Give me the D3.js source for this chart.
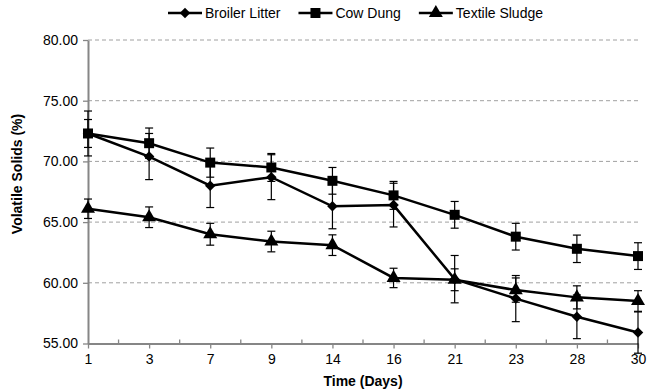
<!DOCTYPE html>
<html>
<head>
<meta charset="utf-8">
<script src="https://cdn.jsdelivr.net/npm/d3@7"></script>
<style>
  body { margin: 0; background: #fff; }
  svg { display: block; font-family: "Liberation Sans", Arial, sans-serif; }
</style>
</head>
<body>
<svg id="chart" width="651" height="389"></svg>
<script>
// categories (days)
const days = ["1", "3", "7", "9", "14", "16", "21", "23", "28", "30"];
// series values (%)
const broilerLitter = [72.3, 70.4, 68.0, 68.7, 66.3, 66.4, 60.3, 58.7, 57.2, 55.9];
const cowDung       = [72.3, 71.5, 69.9, 69.5, 68.4, 67.2, 65.6, 63.8, 62.8, 62.2];
const textileSludge = [66.1, 65.4, 64.0, 63.4, 63.1, 60.4, 60.25, 59.4, 58.8, 58.5];
// error bars (+/-)
const broilerErr = [1.85, 1.9, 1.8, 1.85, 1.85, 1.8, 1.95, 1.9, 1.8, 1.7];
const cowErr     = [1.15, 1.25, 1.2, 1.15, 1.1, 1.15, 1.1, 1.1, 1.13, 1.1];
const textileErr = [0.8, 0.85, 0.9, 0.85, 0.85, 0.8, 0.9, 1.0, 0.95, 0.85];
const yTicks = [55, 60, 65, 70, 75, 80];

const series = [
  {name: "Broiler Litter", values: broilerLitter, err: broilerErr, marker: "diamond"},
  {name: "Cow Dung", values: cowDung, err: cowErr, marker: "square"},
  {name: "Textile Sludge", values: textileSludge, err: textileErr, marker: "triangle"}
];

const margin = {top: 40, right: 13, bottom: 45.5, left: 88};
const svg = d3.select("#chart");
const width = +svg.attr("width") - margin.left - margin.right;
const height = +svg.attr("height") - margin.top - margin.bottom;
const fontSize = 14;

const x = d3.scalePoint().domain(days).range([0, width]);
const y = d3.scaleLinear().domain([55, 80]).range([height, 0]);

const g = svg.append("g")
    .attr("transform", "translate(" + margin.left + "," + margin.top + ")");

// grid lines
g.selectAll(".grid")
    .data(yTicks.filter(d => d > 55))
    .enter().append("line")
    .attr("class", "grid")
    .attr("x1", 0).attr("x2", width)
    .attr("y1", d => y(d)).attr("y2", d => y(d))
    .attr("stroke", "#a0a0a0")
    .attr("stroke-width", 1)
    .attr("stroke-dasharray", "4,3");

const axisColor = "#868686";

// y axis
const yAxis = g.append("g")
    .call(d3.axisLeft(y).tickValues(yTicks).tickFormat(d3.format(".2f")).tickSize(5).tickSizeOuter(0));
yAxis.select(".domain").attr("stroke", axisColor).attr("stroke-width", 2);
yAxis.selectAll(".tick line").attr("stroke", axisColor).attr("stroke-width", 1.3);
yAxis.selectAll(".tick text").attr("font-size", fontSize).attr("fill", "#000").attr("x", -10)
    .attr("font-family", "Liberation Sans, Arial, sans-serif");

// x axis
const xAxis = g.append("g")
    .attr("transform", "translate(0," + height + ")")
    .call(d3.axisBottom(x).tickSize(5).tickSizeOuter(0));
xAxis.select(".domain").attr("stroke", axisColor).attr("stroke-width", 2);
xAxis.selectAll(".tick line").attr("stroke", axisColor).attr("stroke-width", 1.3);
xAxis.selectAll(".tick text").attr("font-size", fontSize).attr("fill", "#000").attr("y", 11)
    .attr("font-family", "Liberation Sans, Arial, sans-serif");

// minor ticks between categories
const mids = days.slice(1).map((d, i) => (x(days[i]) + x(d)) / 2);
xAxis.selectAll(".minor")
    .data(mids)
    .enter().append("line")
    .attr("class", "minor")
    .attr("x1", d => d).attr("x2", d => d)
    .attr("y1", 0).attr("y2", -4)
    .attr("stroke", axisColor)
    .attr("stroke-width", 1.3);

// axis titles
svg.append("text")
    .attr("transform", "translate(22,174) rotate(-90)")
    .attr("text-anchor", "middle")
    .attr("font-size", fontSize)
    .attr("font-weight", "bold")
    .text("Volatile Solids (%)");

svg.append("text")
    .attr("x", margin.left + width / 2)
    .attr("y", 386)
    .attr("text-anchor", "middle")
    .attr("font-size", fontSize)
    .attr("font-weight", "bold")
    .text("Time (Days)");

function markerPath(type) {
  if (type === "diamond") return d3.symbol(d3.symbolDiamond2, 70)();
  if (type === "square") return d3.symbol(d3.symbolSquare, 100)();
  return d3.symbol(d3.symbolTriangle, 85)();
}

const line = d3.line()
    .x((d, i) => x(days[i]))
    .y(d => y(d));

series.forEach(s => {
  const sg = g.append("g").attr("class", "series");

  // error bars
  const eb = sg.selectAll(".err")
      .data(s.values.map((v, i) => ({v, e: s.err[i], day: days[i]})))
      .enter().append("g")
      .attr("class", "err")
      .attr("stroke", "#000")
      .attr("stroke-width", 1.2);
  eb.append("line")
      .attr("x1", d => x(d.day)).attr("x2", d => x(d.day))
      .attr("y1", d => y(d.v + d.e)).attr("y2", d => y(d.v - d.e));
  eb.append("line")
      .attr("x1", d => x(d.day) - 4).attr("x2", d => x(d.day) + 4)
      .attr("y1", d => y(d.v + d.e)).attr("y2", d => y(d.v + d.e));
  eb.append("line")
      .attr("x1", d => x(d.day) - 4).attr("x2", d => x(d.day) + 4)
      .attr("y1", d => y(d.v - d.e)).attr("y2", d => y(d.v - d.e));

  sg.append("path")
      .datum(s.values)
      .attr("fill", "none")
      .attr("stroke", "#000")
      .attr("stroke-width", 2.5)
      .attr("d", line);

  sg.selectAll(".mark")
      .data(s.values)
      .enter().append("path")
      .attr("class", "mark")
      .attr("transform", (d, i) => "translate(" + x(days[i]) + "," + y(d) + ")")
      .attr("d", markerPath(s.marker))
      .attr("fill", "#000");
});

// legend
const legend = svg.append("g").attr("transform", "translate(168,13)");
let lx = 0;
series.forEach(s => {
  const it = legend.append("g").attr("transform", "translate(" + lx + ",0)");
  it.append("line")
      .attr("x1", 0).attr("x2", 34).attr("y1", 0).attr("y2", 0)
      .attr("stroke", "#000").attr("stroke-width", 2.5);
  it.append("path")
      .attr("transform", "translate(17,0)")
      .attr("d", markerPath(s.marker))
      .attr("fill", "#000");
  const t = it.append("text")
      .attr("x", 37).attr("y", 0).attr("dy", "0.35em")
      .attr("font-size", fontSize)
      .text(s.name);
  lx += 37 + t.node().getComputedTextLength() + 18;
});
</script>
</body>
</html>
